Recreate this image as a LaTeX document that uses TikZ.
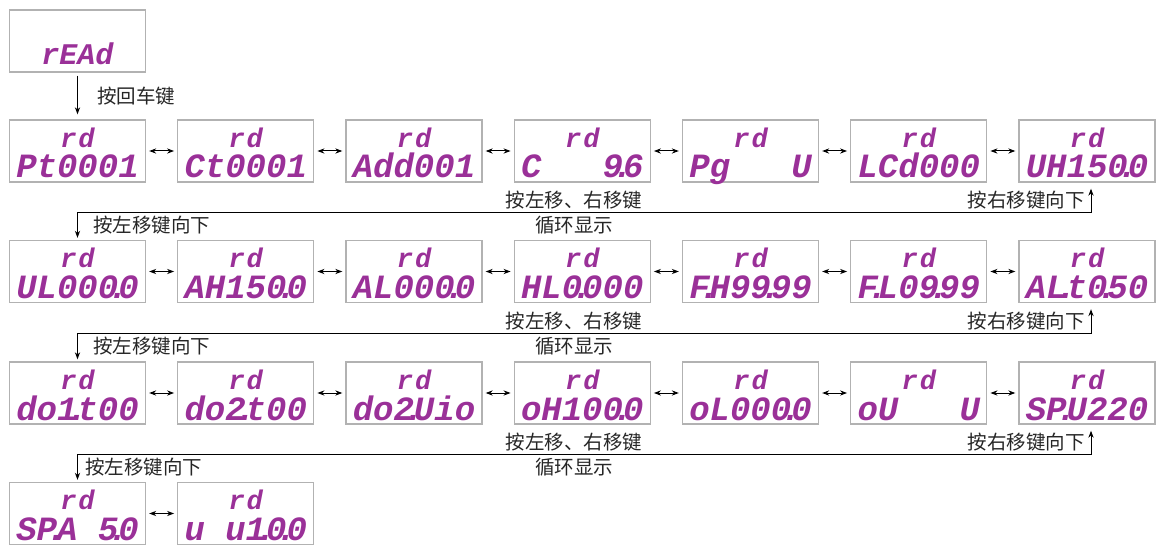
\documentclass[tikz,border=0pt]{standalone}
\usepackage{fontspec}
\newfontfamily\segfont{Liberation Mono}
\newfontfamily\cjk{Noto Sans CJK SC}
\usetikzlibrary{arrows.meta}
\definecolor{segpurple}{HTML}{9A3098}
\newcommand{\segdot}{\kern-0.3em.\kern-0.3em}

\begin{document}
\begin{tikzpicture}[x=0.5pt,y=-0.5pt,line width=0.5pt,>={Stealth[length=3.5pt,width=2.6pt]},
panel/.style={draw=black!30,line width=0.7pt,rectangle,inner sep=0pt,minimum width=68pt,minimum height=31pt,text=segpurple,font=\segfont\bfseries\itshape\fontsize{17}{17}\selectfont,text height=27pt,text depth=0pt},
disp/.style={panel,label={[rdtag]north:r\kern1pt d}},
rdtag/.style={anchor=north,yshift=-4pt,inner sep=0pt,text=segpurple,font=\segfont\bfseries\itshape\fontsize{13.5}{13.5}\selectfont},
lbl/.style={inner sep=1.5pt,text=black!85,font=\cjk\fontsize{9.75}{11}\selectfont},
linkarrow/.style={<->,shorten <=1.5pt,shorten >=1.5pt}]

\useasboundingbox (0,0) rectangle (1156,545);

\draw (77.5,41) node[panel,text height=24pt,font=\segfont\bfseries\itshape\fontsize{15}{15}\selectfont] (read) {rEAd};

\draw (77.5,151) node[disp] (pt) {Pt0001};
\draw (245.75,151) node[disp] (ct) {Ct0001};
\draw (414,151) node[disp] (add) {Add001};
\draw (582.25,151) node[disp] (baud) {C~~~9\segdot6};
\draw (750.5,151) node[disp] (pg) {Pg~~~U};
\draw (918.75,151) node[disp] (lcd) {LCd000};
\draw (1087,151) node[disp] (uh) {UH150\segdot0};

\draw (77.5,271.5) node[disp] (ul) {UL000\segdot0};
\draw (245.75,271.5) node[disp] (ah) {AH150\segdot0};
\draw (414,271.5) node[disp] (al) {AL000\segdot0};
\draw (582.25,271.5) node[disp] (hl) {HL0\segdot000};
\draw (750.5,271.5) node[disp] (fh) {F\segdot H99\segdot99};
\draw (918.75,271.5) node[disp] (fl) {F\segdot L09\segdot99};
\draw (1087,271.5) node[disp] (alt) {AL\segdot t0\segdot50};

\draw (77.5,393) node[disp] (doa) {do1\segdot t00};
\draw (245.75,393) node[disp] (dob) {do2\segdot t00};
\draw (414,393) node[disp] (dou) {do2\segdot Uio};
\draw (582.25,393) node[disp] (oh) {oH100\segdot0};
\draw (750.5,393) node[disp] (ol) {oL000\segdot0};
\draw (918.75,393) node[disp] (ou) {oU~~~U};
\draw (1087,393) node[disp] (spu) {SP\segdot U220};

\draw (77.5,513.5) node[disp] (spa) {SP\segdot A~5\segdot0};
\draw (245.75,513.5) node[disp] (uu) {u~u1\segdot0\segdot0};

% enter key
\draw[->,shorten <=1.5pt,shorten >=2.5pt] (read) -- node[lbl,right=8pt] (enter) {按回车键} (pt);

% left / right inside a row
\draw[linkarrow] (pt) -- (ct);
\draw[linkarrow] (ct) -- (add);
\draw[linkarrow] (add) -- (baud);
\draw[linkarrow] (baud) -- (pg);
\draw[linkarrow] (pg) -- (lcd);
\draw[linkarrow] (lcd) -- (uh);

\draw[linkarrow] (ul) -- (ah);
\draw[linkarrow] (ah) -- (al);
\draw[linkarrow] (al) -- (hl);
\draw[linkarrow] (hl) -- (fh);
\draw[linkarrow] (fh) -- (fl);
\draw[linkarrow] (fl) -- (alt);

\draw[linkarrow] (doa) -- (dob);
\draw[linkarrow] (dob) -- (dou);
\draw[linkarrow] (dou) -- (oh);
\draw[linkarrow] (oh) -- (ol);
\draw[linkarrow] (ol) -- (ou);
\draw[linkarrow] (ou) -- (spu);

\draw[linkarrow] (spa) -- (uu);

% row to row
\draw[<->] ([xshift=2pt,yshift=-3pt]uh.south) -- ++(0,24) coordinate (ra)
  -- node[pos=.51,lbl,above] (cyca) {按左移、右移键} node[pos=.51,lbl,below] (loopa) {循环显示}
  (ra -| ul.north) coordinate (la) -- ([yshift=1pt]ul.north);
\node[lbl,anchor=south east,xshift=-1.5pt] (downra) at (ra) {按右移键向下};
\node[lbl,anchor=north west,xshift=6pt] (downla) at (la) {按左移键向下};

\draw[<->] ([xshift=2pt,yshift=-3pt]alt.south) -- ++(0,24) coordinate (rb)
  -- node[pos=.51,lbl,above] (cycb) {按左移、右移键} node[pos=.51,lbl,below] (loopb) {循环显示}
  (rb -| doa.north) coordinate (lb) -- ([yshift=1pt]doa.north);
\node[lbl,anchor=south east,xshift=-1.5pt] (downrb) at (rb) {按右移键向下};
\node[lbl,anchor=north west,xshift=6pt] (downlb) at (lb) {按左移键向下};

\draw[<->] ([xshift=2pt,yshift=-3pt]spu.south) -- ++(0,24) coordinate (rc)
  -- node[pos=.51,lbl,above] (cycc) {按左移、右移键} node[pos=.51,lbl,below] (loopc) {循环显示}
  (rc -| spa.north) coordinate (lc) -- ([yshift=1pt]spa.north);
\node[lbl,anchor=south east,xshift=-1.5pt] (downrc) at (rc) {按右移键向下};
\node[lbl,anchor=north west,xshift=2pt] (downlc) at (lc) {按左移键向下};
\end{tikzpicture}
\end{document}
